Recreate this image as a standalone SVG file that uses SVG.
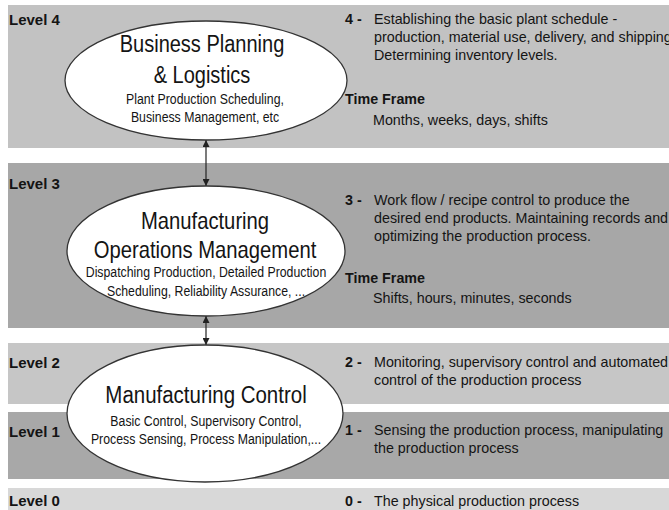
<svg xmlns="http://www.w3.org/2000/svg" width="669" height="510" viewBox="0 0 669 510">
<style>
text{font-family:"Liberation Sans",Arial,sans-serif;fill:#141414}
.lvl{font-size:15px;font-weight:bold}
.d{font-size:14.3px}
.b{font-size:14.3px;font-weight:bold}
.big{font-size:23px;text-anchor:middle}
.sm{font-size:14.3px;text-anchor:middle}
.node ellipse{fill:#fff;stroke:#333;stroke-width:1.3}
.conn line{stroke:#222;stroke-width:1.2}
</style>
<defs>
<marker id="ah" viewBox="0 0 10 10" refX="10" refY="5" markerWidth="7" markerHeight="7" orient="auto-start-reverse" markerUnits="userSpaceOnUse">
<path d="M0,0 L10,5 L0,10 z" fill="#222"/>
</marker>
</defs>
<rect width="669" height="510" fill="#fff"/>
<g id="bands">
<rect x="8" y="5" width="661" height="143" fill="#c2c2c2"/>
<rect x="8" y="163" width="661" height="165" fill="#a7a7a7"/>
<rect x="8" y="343" width="661" height="61" fill="#c6c6c6"/>
<rect x="8" y="412" width="661" height="67" fill="#a8a8a8"/>
<rect x="8" y="488" width="661" height="22" fill="#d8d8d8"/>
</g>
<g id="levels">
<text class="lvl" x="9" y="25">Level 4</text>
<text class="lvl" x="9" y="189">Level 3</text>
<text class="lvl" x="9" y="368">Level 2</text>
<text class="lvl" x="9" y="437">Level 1</text>
<text class="lvl" x="9" y="506">Level 0</text>
</g>
<g id="descriptions">
<text class="b" x="345" y="24">4 -</text>
<text class="d" x="374" y="24">Establishing the basic plant schedule -</text>
<text class="d" x="374" y="42">production, material use, delivery, and shipping</text>
<text class="d" x="374" y="60">Determining inventory levels.</text>
<text class="b" x="345" y="104">Time Frame</text>
<text class="d" x="373" y="125">Months, weeks, days, shifts</text>
<text class="b" x="345" y="205">3 -</text>
<text class="d" x="374" y="205">Work flow / recipe control to produce the</text>
<text class="d" x="374" y="223">desired end products. Maintaining records and</text>
<text class="d" x="374" y="241">optimizing the production process.</text>
<text class="b" x="345" y="283">Time Frame</text>
<text class="d" x="373" y="303">Shifts, hours, minutes, seconds</text>
<text class="b" x="345" y="367">2 -</text>
<text class="d" x="374" y="367">Monitoring, supervisory control and automated</text>
<text class="d" x="374" y="385">control of the production process</text>
<text class="b" x="345" y="435">1 -</text>
<text class="d" x="374" y="435">Sensing the production process, manipulating</text>
<text class="d" x="374" y="453">the production process</text>
<text class="b" x="345" y="506">0 -</text>
<text class="d" x="374" y="506">The physical production process</text>
</g>
<g class="conn" id="connectors">
<line x1="206" y1="186" x2="206" y2="140" marker-start="url(#ah)" marker-end="url(#ah)"/>
<line x1="206" y1="345" x2="206" y2="316" marker-start="url(#ah)" marker-end="url(#ah)"/>
</g>
<g class="node" id="n-business">
<ellipse cx="206" cy="80.5" rx="141" ry="59.5"/>
<g transform="translate(202,0) scale(0.87,1)">
<text class="big" x="0" y="52">Business Planning</text>
<text class="big" x="0" y="83">&amp; Logistics</text>
</g>
<g transform="translate(205,0) scale(0.86,1)">
<text class="sm" x="0" y="104">Plant Production Scheduling,</text>
<text class="sm" x="0" y="122">Business Management, etc</text>
</g>
</g>
<g class="node" id="n-mom">
<ellipse cx="206" cy="251" rx="139" ry="65"/>
<g transform="translate(205,0) scale(0.88,1)">
<text class="big" x="0" y="229">Manufacturing</text>
<text class="big" x="0" y="258">Operations Management</text>
</g>
<g transform="translate(206,0) scale(0.86,1)">
<text class="sm" x="0" y="277">Dispatching Production, Detailed Production</text>
<text class="sm" x="0" y="296">Scheduling, Reliability Assurance, ...</text>
</g>
</g>
<g class="node" id="n-control">
<ellipse cx="205" cy="413.5" rx="138" ry="68.5"/>
<g transform="translate(206,0) scale(0.89,1)">
<text class="big" x="0" y="403">Manufacturing Control</text>
</g>
<g transform="translate(206,0) scale(0.86,1)">
<text class="sm" x="0" y="426">Basic Control, Supervisory Control,</text>
<text class="sm" x="0" y="444">Process Sensing, Process Manipulation,...</text>
</g>
</g>
</svg>
